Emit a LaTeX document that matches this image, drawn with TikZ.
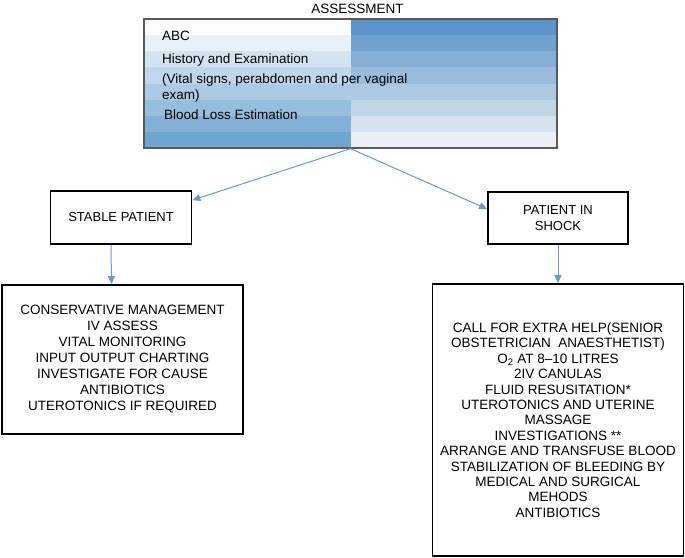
\documentclass[tikz,border=0pt]{standalone}
\usepackage{fontspec}
\setmainfont{Liberation Sans}
\usetikzlibrary{arrows.meta}
\definecolor{arrowblue}{RGB}{98,156,212}
\definecolor{bandLtop}{RGB}{252,253,254}
\definecolor{bandLbot}{RGB}{112,164,209}
\definecolor{bandRtop}{RGB}{92,148,201}
\definecolor{bandRbot}{RGB}{234,239,245}
\definecolor{boxgray}{RGB}{90,90,90}
\begin{document}
\begin{tikzpicture}[x=1pt,y=-1pt,
  txt/.style={font=\fontsize{13.5}{16}\selectfont, inner sep=0pt},
  blackbox/.style={draw=black, line width=1.8pt, inner sep=0pt, align=center},
  conn/.style={draw=arrowblue, line width=1pt, -{Triangle[length=8pt,width=7pt]}}
]
\useasboundingbox (0,0) rectangle (685,557);
% shaded bands of the assessment box
\foreach \i in {0,...,7}{
  \pgfmathtruncatemacro{\p}{round(\i*100/7)}
  \pgfmathsetmacro{\ya}{19+\i*16.125}
  \pgfmathsetmacro{\yb}{19+(\i+1)*16.125}
  \fill[bandLbot!\p!bandLtop] (144,\ya) rectangle (351,\yb);
  \fill[bandRbot!\p!bandRtop] (351,\ya) rectangle (557,\yb);
}
\node[draw=boxgray, line width=1.3pt, minimum width=413pt, minimum height=129pt, inner sep=0pt] (assess) at (350.5,83.5) {};
\node[txt, anchor=base] (title) at (357.5,13) {ASSESSMENT};
\node[txt, anchor=base west] (abc) at (162,40) {ABC};
\node[txt, anchor=base west] (hist) at (162,63) {History and Examination};
\node[txt, anchor=base west] (vital) at (162,83) {(Vital signs, perabdomen and per vaginal};
\node[txt, anchor=base west] (exam) at (162,99) {exam)};
\node[txt, anchor=base west] (blood) at (164,119) {Blood Loss Estimation};

\node[blackbox, minimum width=141pt, minimum height=53pt, font=\fontsize{13}{16}\selectfont] (stable) at (121,217.5) {STABLE PATIENT};
\node[blackbox, minimum width=140pt, minimum height=52pt, font=\fontsize{13}{16}\selectfont] (shock) at (558,218) {PATIENT IN\\SHOCK};

\node[blackbox, minimum width=241pt, minimum height=149pt, font=\fontsize{13.5}{16}\selectfont] (cons) at (122.5,359.5) {CONSERVATIVE MANAGEMENT\\IV ASSESS\\VITAL MONITORING\\INPUT OUTPUT CHARTING\\INVESTIGATE FOR CAUSE\\ANTIBIOTICS\\UTEROTONICS IF REQUIRED};

\node[blackbox, line width=1.6pt, minimum width=251pt, minimum height=272pt, font=\fontsize{13.5}{15.4}\selectfont] (treat) at (558,420) {CALL FOR EXTRA HELP(SENIOR\\OBSTETRICIAN\ \ ANAESTHETIST)\\O\textsubscript{2} AT 8--10 LITRES\\2IV CANULAS\\FLUID RESUSITATION*\\UTEROTONICS AND UTERINE\\MASSAGE\\INVESTIGATIONS **\\ARRANGE AND TRANSFUSE BLOOD\\STABILIZATION OF BLEEDING BY\\MEDICAL AND SURGICAL\\MEHODS\\ANTIBIOTICS};

\draw[conn] (assess.south) -- ([yshift=-10pt]stable.north east);
\draw[conn] (assess.south) -- ([yshift=9pt]shock.west);
\draw[conn] ([xshift=-10pt]stable.south) -- ([xshift=-11pt]cons.north);
\draw[conn] (shock.south) -- (treat.north);
\end{tikzpicture}
\end{document}
